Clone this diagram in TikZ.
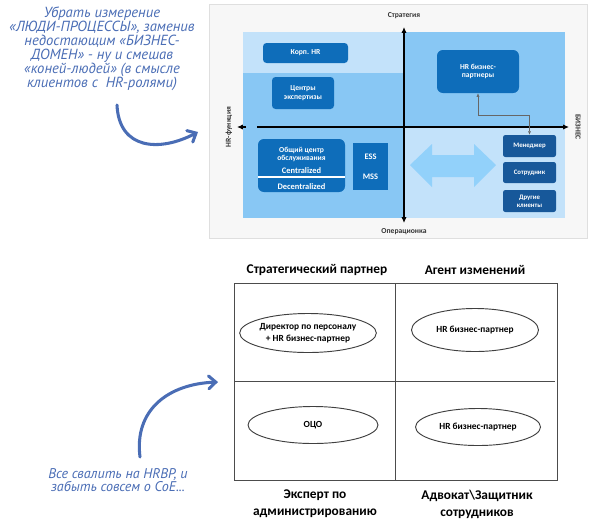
\documentclass[tikz,border=0pt]{standalone}
\usepackage{fontspec}
\setmainfont{Carlito}
\newfontfamily\handfont{PT Sans}
\usepackage{tikz}
\usetikzlibrary{arrows.meta,positioning,shapes.geometric,calc}

\definecolor{lightbg}{HTML}{C3E2FA}
\definecolor{midbg}{HTML}{88C7F4}
\definecolor{boxblue}{HTML}{0E6DBA}
\definecolor{navy}{HTML}{17589A}
\definecolor{arrowblue}{HTML}{92D1FA}
\definecolor{handblue}{HTML}{4A6DB5}

\begin{document}
\begin{tikzpicture}[x=0.03cm, y=-0.03cm, every node/.style={font=\bfseries}]

\tikzstyle{hrbox} = [rectangle, rounded corners=3pt, fill=boxblue, text=white, align=center, inner sep=1pt, font=\bfseries\fontsize{6.5}{7.5}\selectfont]
\tikzstyle{clientbox} = [rectangle, rounded corners=2pt, fill=navy, text=white, align=center, inner sep=1pt, minimum width=1.59cm, font=\bfseries\fontsize{5.8}{7}\selectfont]
\tikzstyle{axis} = [line width=1.6pt, -{Latex[length=5pt,width=4.5pt]}]
\tikzstyle{axislabel} = [text=black!80, font=\bfseries\fontsize{6.5}{7}\selectfont]
\tikzstyle{role} = [ellipse, draw=black!75, thick, align=center, inner sep=0pt, font=\bfseries\fontsize{8}{10}\selectfont]
\tikzstyle{quadlabel} = [align=center, font=\bfseries\fontsize{11.4}{14.5}\selectfont]
\tikzstyle{note} = [text=handblue, align=center, font=\handfont\itshape\fontsize{12.5}{12}\selectfont]
\tikzstyle{handarrow} = [handblue, line width=2.6pt, line cap=round, -{Straight Barb[length=6pt,width=11pt,line cap=round]}]

\useasboundingbox (0,0) rectangle (591,520);

% Top model: background
\draw[gray!25, fill=gray!6] (209,4) rectangle (587,238);
\fill[midbg] (243,32) rectangle (565,218);
\fill[lightbg] (243,32) rectangle (404,73);
\fill[lightbg] (404,127) rectangle (565,218);

% Axes
\coordinate (vtop) at (404,27);
\coordinate (vbot) at (404,223);
\coordinate (hleft) at (257,127);
\coordinate (hright) at (569,127);
\coordinate (hleftstub) at (246,127);
\coordinate (hlefttip) at (237,127);
\draw[axis, {Latex[length=5pt,width=4.5pt]}-{Latex[length=5pt,width=4.5pt]}] (vbot) -- (vtop);
\draw[axis] (hleft) -- (hright);
\draw[axis] (hleftstub) -- (hlefttip);

\node[axislabel] (strat) at (404,16) {Стратегия};
\node[axislabel] (oper) at (404,232) {Операционка};
\node[axislabel, rotate=90] (hrfunc) at (229,127) {HR-функция};
\node[axislabel, rotate=-90] (biz) at (578,127) {БИЗНЕС};

% Left side boxes
\node[hrbox, minimum width=2.55cm, minimum height=0.6cm] (korp) at (305.5,53) {Корп. HR};
\node[hrbox, minimum width=1.86cm, minimum height=0.96cm] (coe) at (303,93) {Центры\\экспертизы};
\node[hrbox, rounded corners=5pt, minimum width=2.61cm, minimum height=1.59cm] (ssc) at (301.5,165.5) {};
\node[hrbox] (ssctext) at (301.5,154.5) {Общий центр\\обслуживания};
\node[hrbox, font=\bfseries\fontsize{7.2}{8}\selectfont] (central) at (301.5,171) {Centralized};
\node[hrbox, font=\bfseries\fontsize{7.2}{8}\selectfont] (decentral) at (301.5,187) {Decentralized};
\draw[white, line width=1pt] (ssc.west |- 0,177) -- (ssc.east |- 0,177);
\node[hrbox, rounded corners=0pt, minimum width=1.05cm, minimum height=1.41cm] (ess) at (370.5,166.5) {};
\node[hrbox, font=\bfseries\fontsize{7.2}{8}\selectfont] (esstext) at (370.5,157) {ESS};
\node[hrbox, font=\bfseries\fontsize{7.2}{8}\selectfont] (msstext) at (370.5,177) {MSS};

% Right side boxes
\node[hrbox, rounded corners=5pt, minimum width=2.46cm, minimum height=1.29cm] (hrbp) at (478,71.5) {HR бизнес-\\партнеры};
\node[clientbox, minimum height=0.66cm] (manager) at (529.5,146) {Менеджер};
\node[clientbox, minimum height=0.63cm] (employee) at (529.5,172.5) {Сотрудник};
\node[clientbox, minimum height=0.66cm] (others) at (529.5,201) {Другие\\клиенты};

\fill[arrowblue] (410,165) -- (432,144) -- (432,155) -- (474,155) -- (474,144) -- (496,165)
  -- (474,187) -- (474,177) -- (432,177) -- (432,187) -- cycle;

\coordinate (bend) at (manager.north |- 0,115);
\draw[black!60, thin, {Latex[length=3pt,width=2.5pt]}-{Latex[length=3pt,width=2.5pt]}] (hrbp.south) |- (bend) -- (manager.north);

% Top note
\node[note] (note1) at (102,49) {Убрать измерение\\«ЛЮДИ-ПРОЦЕССЫ», заменив\\недостающим «БИЗНЕС-\\ДОМЕН» - ну и смешав\\«коней-людей» (в смысле\\клиентов с~~HR-ролями)};
\coordinate (n1start) at (117,105);
\coordinate (n1end) at (198,132);
\draw[handarrow] (n1start) .. controls (119,150) and (160,152) .. (n1end);

% Bottom model
\node[quadlabel] (stratpart) at (317,270) {Стратегический партнер};
\node[quadlabel] (agent) at (475,270) {Агент изменений};
\draw[black!70, thick] (234,283) rectangle (557,480);
\draw[black!70, thick] (395,283) -- (395,480);
\draw[black!70, thick] (234,381) -- (555,381);

\node[role, minimum width=3.6cm, minimum height=1.17cm] (dir) at (308,333) {Директор по персоналу\\+ HR бизнес-партнер};
\node[role, minimum width=3.81cm, minimum height=1.29cm] (bp1) at (475,330) {HR бизнес-партнер};
\node[role, minimum width=3.9cm, minimum height=1.11cm] (oco) at (313,425) {ОЦО};
\node[role, minimum width=3.75cm, minimum height=1.11cm] (bp2) at (478,427) {HR бизнес-партнер};

\node[quadlabel] (expert) at (315,504) {Эксперт по\\администрированию};
\node[quadlabel] (advocate) at (477,504) {Адвокат\textbackslash Защитник\\сотрудников};

% Bottom note
\node[note, font=\handfont\itshape\fontsize{12}{11.2}\selectfont] (note2) at (118,480.5) {Все свалить на HRBP, и\\забыть совсем о CoE...};
\coordinate (n2start) at (140,457);
\coordinate (n2end) at (218,382);
\draw[handarrow] (n2start) .. controls (134,410) and (168,384) .. (n2end);

\end{tikzpicture}
\end{document}
